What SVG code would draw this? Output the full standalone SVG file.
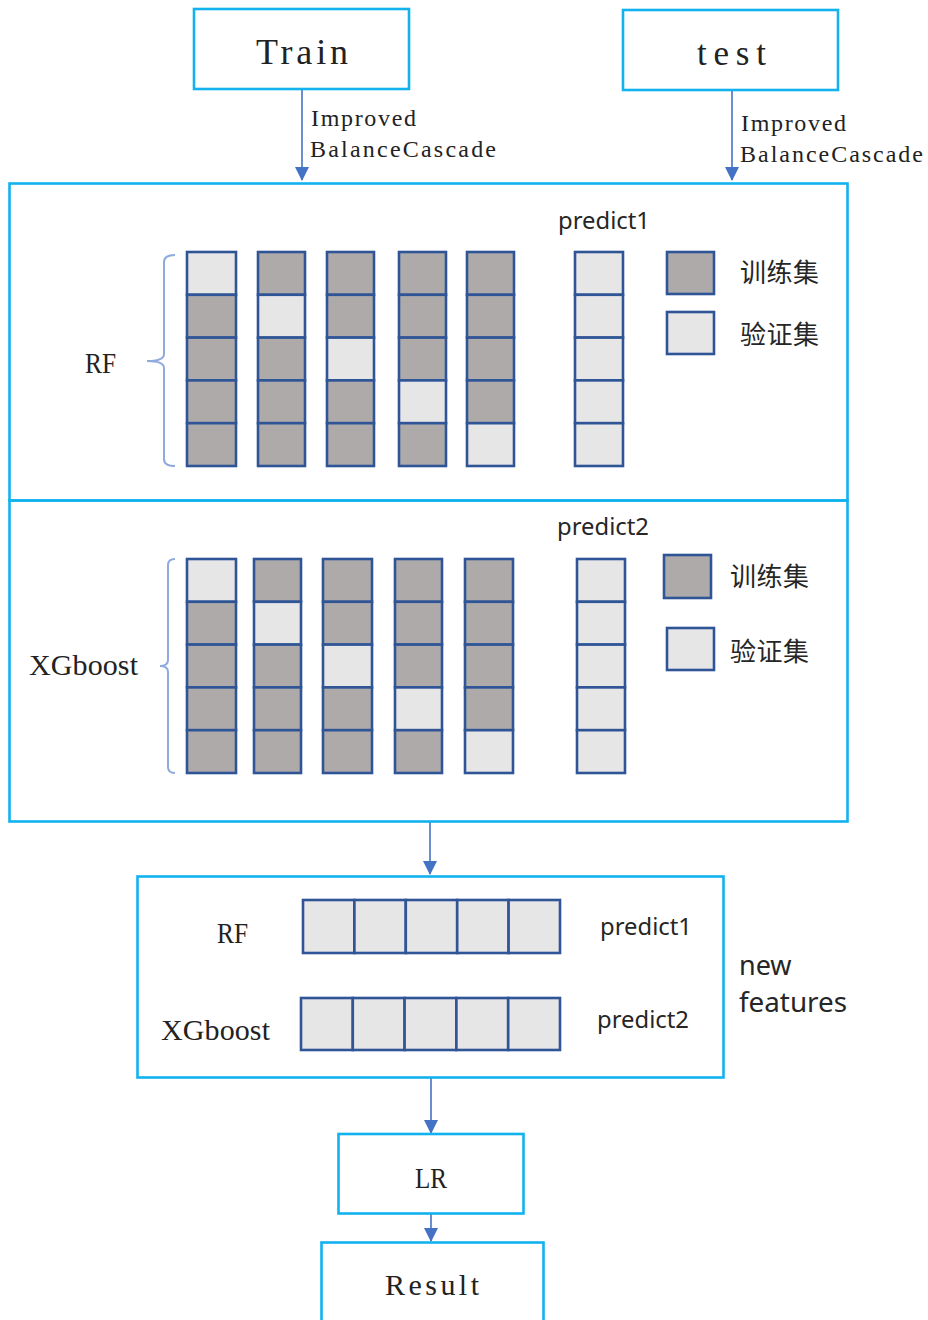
<svg xmlns="http://www.w3.org/2000/svg" width="928" height="1320" viewBox="0 0 928 1320">
<defs>
<style>
.box{fill:#fff;stroke:#12B2EE;stroke-width:2.6}
.frame{fill:none;stroke:#12B2EE;stroke-width:2.6}
.d{fill:#AEAAAA;stroke:#2F5597;stroke-width:2.6}
.l{fill:#E7E6E6;stroke:#2F5597;stroke-width:2.6}
.conn{stroke:#4472C4;stroke-width:1.6;fill:none}
.brace{stroke:#8FAADC;stroke-width:2;fill:none}
.mono{font-family:"Liberation Serif",serif;fill:#222}
.serif{font-family:"Liberation Serif",serif;fill:#222}
.sans{font-family:"Noto Sans","Liberation Sans",sans-serif;fill:#262626}
.cjk{font-family:"Noto Sans CJK SC","Noto Sans",sans-serif;fill:#262626;font-size:26px}
</style>
<marker id="ah" markerWidth="14" markerHeight="14" refX="13" refY="7" orient="auto" markerUnits="userSpaceOnUse">
<path d="M0,0 L14,7 L0,14 Z" fill="#4472C4"/>
</marker>
</defs>

<g id="connectors">
<line class="conn" x1="302" y1="89" x2="302" y2="180" marker-end="url(#ah)"/>
<line class="conn" x1="732" y1="90" x2="732" y2="180" marker-end="url(#ah)"/>
<line class="conn" x1="430" y1="822" x2="430" y2="874" marker-end="url(#ah)"/>
<line class="conn" x1="431" y1="1077" x2="431" y2="1133" marker-end="url(#ah)"/>
<line class="conn" x1="431" y1="1214" x2="431" y2="1241" marker-end="url(#ah)"/>
<text class="mono" x="311" y="126" font-size="24" textLength="105" lengthAdjust="spacing">Improved</text>
<text class="mono" x="310" y="157" font-size="24" textLength="186" lengthAdjust="spacing">BalanceCascade</text>
<text class="mono" x="741" y="131" font-size="24" textLength="105" lengthAdjust="spacing">Improved</text>
<text class="mono" x="740" y="162" font-size="24" textLength="183" lengthAdjust="spacing">BalanceCascade</text>
</g>

<g id="train">
<rect class="box" x="194" y="9" width="215" height="80"/>
<text class="mono" x="256" y="64" font-size="36" textLength="92" lengthAdjust="spacing">Train</text>
</g>

<g id="test">
<rect class="box" x="623" y="10" width="215" height="80"/>
<text class="mono" x="697" y="65" font-size="35" textLength="69" lengthAdjust="spacing">test</text>
</g>

<g id="rf-section">
<rect class="frame" x="9.5" y="183.5" width="838" height="317"/>
<text class="sans" x="558" y="229" font-size="24" textLength="92" lengthAdjust="spacingAndGlyphs">predict1</text>
<text class="serif" x="85" y="373" font-size="30" textLength="31" lengthAdjust="spacingAndGlyphs">RF</text>
<path class="brace" d="M175,255 Q164,255 164,262 L164,354 Q164,361 147,361 Q164,361 164,368 L164,459 Q164,466 175,466"/>
<rect class="l" x="187" y="252" width="49" height="42.8"/>
<rect class="d" x="187" y="294.8" width="49" height="42.8"/>
<rect class="d" x="187" y="337.6" width="49" height="42.8"/>
<rect class="d" x="187" y="380.4" width="49" height="42.8"/>
<rect class="d" x="187" y="423.2" width="49" height="42.8"/>
<rect class="d" x="258" y="252" width="47" height="42.8"/>
<rect class="l" x="258" y="294.8" width="47" height="42.8"/>
<rect class="d" x="258" y="337.6" width="47" height="42.8"/>
<rect class="d" x="258" y="380.4" width="47" height="42.8"/>
<rect class="d" x="258" y="423.2" width="47" height="42.8"/>
<rect class="d" x="327" y="252" width="47" height="42.8"/>
<rect class="d" x="327" y="294.8" width="47" height="42.8"/>
<rect class="l" x="327" y="337.6" width="47" height="42.8"/>
<rect class="d" x="327" y="380.4" width="47" height="42.8"/>
<rect class="d" x="327" y="423.2" width="47" height="42.8"/>
<rect class="d" x="399" y="252" width="47" height="42.8"/>
<rect class="d" x="399" y="294.8" width="47" height="42.8"/>
<rect class="d" x="399" y="337.6" width="47" height="42.8"/>
<rect class="l" x="399" y="380.4" width="47" height="42.8"/>
<rect class="d" x="399" y="423.2" width="47" height="42.8"/>
<rect class="d" x="467" y="252" width="47" height="42.8"/>
<rect class="d" x="467" y="294.8" width="47" height="42.8"/>
<rect class="d" x="467" y="337.6" width="47" height="42.8"/>
<rect class="d" x="467" y="380.4" width="47" height="42.8"/>
<rect class="l" x="467" y="423.2" width="47" height="42.8"/>
<rect class="l" x="575" y="252" width="48" height="42.8"/>
<rect class="l" x="575" y="294.8" width="48" height="42.8"/>
<rect class="l" x="575" y="337.6" width="48" height="42.8"/>
<rect class="l" x="575" y="380.4" width="48" height="42.8"/>
<rect class="l" x="575" y="423.2" width="48" height="42.8"/>
<rect class="d" x="667" y="252" width="47" height="42"/>
<rect class="l" x="667" y="312" width="47" height="42"/>
<text class="cjk" x="740" y="282" textLength="79" lengthAdjust="spacing">训练集</text>
<text class="cjk" x="740" y="344" textLength="79" lengthAdjust="spacing">验证集</text>
</g>

<g id="xgb-section">
<rect class="frame" x="9.5" y="500.5" width="838" height="321"/>
<text class="sans" x="557" y="535" font-size="24" textLength="92" lengthAdjust="spacingAndGlyphs">predict2</text>
<text class="mono" x="29" y="675" font-size="30" textLength="109" lengthAdjust="spacing">XGboost</text>
<path class="brace" d="M175,559 Q168,559 168,565 L168,660 Q168,666 160,666 Q168,666 168,672 L168,767 Q168,773 175,773"/>
<rect class="l" x="187" y="559" width="49" height="42.8"/>
<rect class="d" x="187" y="601.8" width="49" height="42.8"/>
<rect class="d" x="187" y="644.6" width="49" height="42.8"/>
<rect class="d" x="187" y="687.4" width="49" height="42.8"/>
<rect class="d" x="187" y="730.2" width="49" height="42.8"/>
<rect class="d" x="254" y="559" width="47" height="42.8"/>
<rect class="l" x="254" y="601.8" width="47" height="42.8"/>
<rect class="d" x="254" y="644.6" width="47" height="42.8"/>
<rect class="d" x="254" y="687.4" width="47" height="42.8"/>
<rect class="d" x="254" y="730.2" width="47" height="42.8"/>
<rect class="d" x="323" y="559" width="49" height="42.8"/>
<rect class="d" x="323" y="601.8" width="49" height="42.8"/>
<rect class="l" x="323" y="644.6" width="49" height="42.8"/>
<rect class="d" x="323" y="687.4" width="49" height="42.8"/>
<rect class="d" x="323" y="730.2" width="49" height="42.8"/>
<rect class="d" x="395" y="559" width="47" height="42.8"/>
<rect class="d" x="395" y="601.8" width="47" height="42.8"/>
<rect class="d" x="395" y="644.6" width="47" height="42.8"/>
<rect class="l" x="395" y="687.4" width="47" height="42.8"/>
<rect class="d" x="395" y="730.2" width="47" height="42.8"/>
<rect class="d" x="465" y="559" width="48" height="42.8"/>
<rect class="d" x="465" y="601.8" width="48" height="42.8"/>
<rect class="d" x="465" y="644.6" width="48" height="42.8"/>
<rect class="d" x="465" y="687.4" width="48" height="42.8"/>
<rect class="l" x="465" y="730.2" width="48" height="42.8"/>
<rect class="l" x="577" y="559" width="48" height="42.8"/>
<rect class="l" x="577" y="601.8" width="48" height="42.8"/>
<rect class="l" x="577" y="644.6" width="48" height="42.8"/>
<rect class="l" x="577" y="687.4" width="48" height="42.8"/>
<rect class="l" x="577" y="730.2" width="48" height="42.8"/>
<rect class="d" x="664" y="555" width="47" height="43"/>
<rect class="l" x="667" y="628" width="47" height="42"/>
<text class="cjk" x="730" y="586" textLength="79" lengthAdjust="spacing">训练集</text>
<text class="cjk" x="730" y="661" textLength="79" lengthAdjust="spacing">验证集</text>
</g>

<g id="new-features">
<rect class="box" x="137.5" y="876.5" width="586" height="201"/>
<text class="serif" x="217" y="943" font-size="30" textLength="31" lengthAdjust="spacingAndGlyphs">RF</text>
<text class="mono" x="161" y="1040" font-size="30" textLength="109" lengthAdjust="spacing">XGboost</text>
<rect class="l" x="303" y="900" width="51.4" height="53"/>
<rect class="l" x="354.4" y="900" width="51.4" height="53"/>
<rect class="l" x="405.8" y="900" width="51.4" height="53"/>
<rect class="l" x="457.2" y="900" width="51.4" height="53"/>
<rect class="l" x="508.6" y="900" width="51.4" height="53"/>
<rect class="l" x="301" y="998" width="51.8" height="52"/>
<rect class="l" x="352.8" y="998" width="51.8" height="52"/>
<rect class="l" x="404.6" y="998" width="51.8" height="52"/>
<rect class="l" x="456.4" y="998" width="51.8" height="52"/>
<rect class="l" x="508.2" y="998" width="51.8" height="52"/>
<text class="sans" x="600" y="935" font-size="24" textLength="92" lengthAdjust="spacingAndGlyphs">predict1</text>
<text class="sans" x="597" y="1028" font-size="24" textLength="92" lengthAdjust="spacingAndGlyphs">predict2</text>
<text class="sans" x="739" y="975" font-size="27">new</text>
<text class="sans" x="739" y="1012" font-size="27" textLength="108" lengthAdjust="spacingAndGlyphs">features</text>
</g>

<g id="lr">
<rect class="box" x="338.5" y="1134" width="185" height="79.5"/>
<text class="serif" x="415" y="1188" font-size="30" textLength="32" lengthAdjust="spacingAndGlyphs">LR</text>
</g>

<g id="result">
<rect class="box" x="321.5" y="1242.5" width="222" height="100"/>
<text class="mono" x="385" y="1295" font-size="30" textLength="94" lengthAdjust="spacing">Result</text>
</g>
</svg>
